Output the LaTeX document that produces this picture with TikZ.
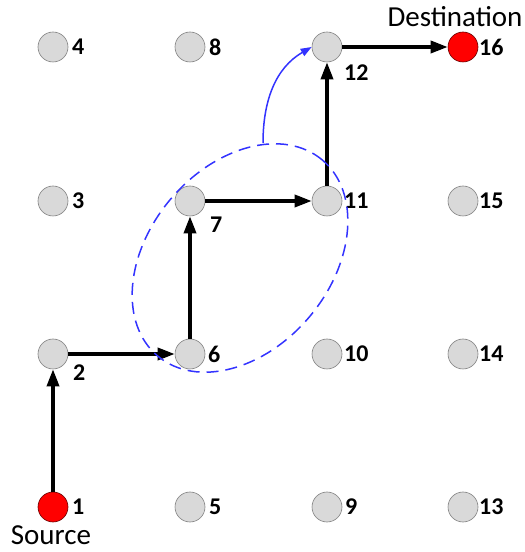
\documentclass[tikz,border=0pt]{standalone}
\usepackage{fontspec}
\setmainfont{Carlito}
\usetikzlibrary{arrows.meta}
\definecolor{nodegray}{RGB}{217,217,217}
\definecolor{nodeedge}{RGB}{128,128,128}
\definecolor{ellblue}{RGB}{51,51,255}
\begin{document}
\begin{tikzpicture}[x=1pt,y=1pt,
  pt/.style={circle,draw=nodeedge,fill=nodegray,minimum size=30pt,inner sep=0pt,line width=0.6pt},
  src/.style={pt,fill=red,draw=red!40!black},
  num/.style={font=\bfseries\fontsize{24}{24}\selectfont,inner sep=0pt,anchor=west},
  big/.style={font=\fontsize{29}{29}\selectfont,inner sep=0pt},
  route/.style={line width=3.5pt,-{Triangle[length=17pt,width=12pt]}},
  ell/.style={ellblue,line width=1.5pt,dash pattern=on 12pt off 7pt},
  hop/.style={ellblue,line width=1.5pt,-{Triangle[length=11pt,width=8pt]}},
  ]
\useasboundingbox (0,0) rectangle (525,552);
% columns 53,190,327,463 ; rows 505,351,198,45
\node[src] (n1) at (53,45) {};
\node[pt] (n2) at (53,198) {};
\node[pt] (n3) at (53,351) {};
\node[pt] (n4) at (53,505) {};
\node[pt] (n5) at (190,45) {};
\node[pt] (n6) at (190,198) {};
\node[pt] (n7) at (190,351) {};
\node[pt] (n8) at (190,505) {};
\node[pt] (n9) at (327,45) {};
\node[pt] (n10) at (327,198) {};
\node[pt] (n11) at (327,351) {};
\node[pt] (n12) at (327,505) {};
\node[pt] (n13) at (463,45) {};
\node[pt] (n14) at (463,198) {};
\node[pt] (n15) at (463,351) {};
\node[src] (n16) at (463,505) {};
% labels
\node[num] (l1) at (72,45) {1};
\node[num] (l2) at (73,179) {2};
\node[num] (l3) at (72,351) {3};
\node[num] (l4) at (72,505) {4};
\node[num] (l5) at (209,45) {5};
\node[num] (l6) at (208,198) {6};
\node[num] (l7) at (210,327) {7};
\node[num] (l8) at (209,505) {8};
\node[num] (l9) at (345,45) {9};
\node[num] (l10) at (344,198) {10};
\node[num] (l11) at (344,351) {11};
\node[num] (l12) at (344,479) {12};
\node[num] (l13) at (479,45) {13};
\node[num] (l14) at (479,198) {14};
\node[num] (l15) at (479,351) {15};
\node[num] (l16) at (479,505) {16};
\node[big] (dst) at (455,535) {Destination};
\node[big] (srcl) at (51,17) {Source};
% route
\draw[route] (n1) -- (n2);
\draw[route] (n2) -- (n6);
\draw[route] (n6) -- (n7);
\draw[route] (n7) -- (n11);
\draw[route] (n11) -- (n12);
\draw[route] (n12) -- (n16);
% ellipse and hop
\draw[ell] (240,294) ellipse [x radius=128, y radius=91, rotate=50];
\coordinate (etop) at (263,409);
\draw[hop] (etop) to[out=90,in=210] (n12.west);
\end{tikzpicture}
\end{document}
